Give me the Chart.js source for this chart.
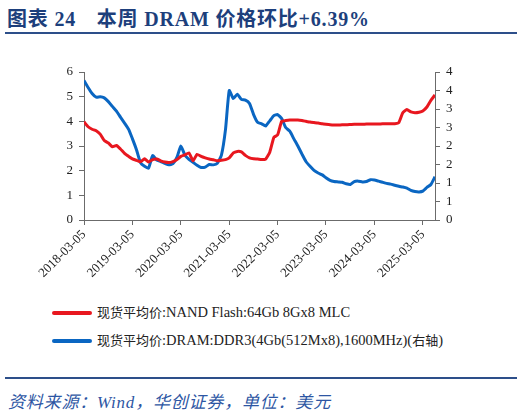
<!DOCTYPE html>
<html><head><meta charset="utf-8">
<script src="https://cdn.jsdelivr.net/npm/chart.js@4.4.1/dist/chart.umd.min.js"></script>
<style>
html,body{margin:0;padding:0;background:#fff;}
body{width:524px;height:413px;position:relative;overflow:hidden;font-family:"Liberation Serif","Noto Sans CJK SC",serif;}
#title{position:absolute;left:7px;top:3px;font-size:20px;font-weight:bold;color:#1d3f7c;white-space:nowrap;letter-spacing:0.8px;}
#tline{position:absolute;left:5px;top:32px;width:512px;height:2px;background:#2d4f8a;}
#wrap{position:absolute;left:0;top:55px;width:524px;height:240px;}
.leg{position:absolute;left:52px;font-size:14.5px;color:#222;white-space:nowrap;}
.leg .cn{font-size:13px;}
.leg span.l{display:inline-block;width:40px;height:4px;border-radius:2px;vertical-align:middle;margin-right:5px;position:relative;top:-1px;}
#fline{position:absolute;left:5px;top:377px;width:512px;height:2px;background:#2d4f8a;}
#foot{position:absolute;left:8px;top:388px;font-size:17px;font-style:italic;color:#2d56a3;white-space:nowrap;letter-spacing:0.8px;}
</style></head><body>
<div id="title">图表 24　本周 DRAM 价格环比+6.39%</div>
<div id="tline"></div>
<div id="wrap"><canvas id="c" width="524" height="240"></canvas></div>
<div class="leg" style="top:302px"><span class="l" style="background:#e8171f"></span><span class="cn">现货平均价</span>:NAND Flash:64Gb 8Gx8 MLC</div>
<div class="leg" style="top:330px"><span class="l" style="background:#0a66c2"></span><span class="cn">现货平均价</span>:DRAM:DDR3(4Gb(512Mx8),1600MHz)(<span class="cn">右轴</span>)</div>
<div id="fline"></div>
<div id="foot">资料来源：Wind，华创证券，单位：美元</div>
<script>
const months = [
"2018-03","2018-04","2018-05","2018-06","2018-07","2018-08","2018-09","2018-10","2018-11","2018-12",
"2019-01","2019-02","2019-03","2019-04","2019-05","2019-06","2019-07","2019-08","2019-09","2019-10","2019-11","2019-12",
"2020-01","2020-02","2020-03","2020-04","2020-05","2020-06","2020-07","2020-08","2020-09","2020-10","2020-11","2020-12",
"2021-01","2021-02","2021-03","2021-04","2021-05","2021-06","2021-07","2021-08","2021-09","2021-10","2021-11","2021-12",
"2022-01","2022-02","2022-03","2022-04","2022-05","2022-06","2022-07","2022-08","2022-09","2022-10","2022-11","2022-12",
"2023-01","2023-02","2023-03","2023-04","2023-05","2023-06","2023-07","2023-08","2023-09","2023-10","2023-11","2023-12",
"2024-01","2024-02","2024-03","2024-04","2024-05","2024-06","2024-07","2024-08","2024-09","2024-10","2024-11","2024-12",
"2025-01","2025-02","2025-03","2025-04","2025-05","2025-06"];
const nandPrice = [
3.98,3.78,3.68,3.62,3.48,3.22,3.12,2.97,3.02,2.88,
2.70,2.58,2.48,2.42,2.36,2.48,2.35,2.45,2.47,2.40,2.35,2.33,
2.37,2.45,2.58,2.64,2.72,2.40,2.66,2.58,2.52,2.47,2.44,2.40,
2.42,2.45,2.52,2.72,2.78,2.76,2.62,2.52,2.48,2.47,2.45,2.47,
2.75,3.35,3.45,4.00,4.03,4.05,4.05,4.05,4.03,4.00,3.97,3.95,
3.93,3.90,3.88,3.86,3.85,3.85,3.86,3.86,3.87,3.88,3.88,3.88,
3.89,3.89,3.89,3.89,3.90,3.90,3.90,3.90,3.95,4.35,4.48,4.38,
4.35,4.37,4.42,4.58,4.85,5.07];
const dramPrice = [
3.77,3.58,3.42,3.32,3.33,3.30,3.20,3.07,2.94,2.78,
2.62,2.45,2.20,1.90,1.55,1.45,1.40,1.74,1.62,1.58,1.53,1.49,
1.52,1.70,2.00,1.75,1.64,1.56,1.48,1.42,1.43,1.50,1.49,1.53,
1.75,2.45,3.50,3.28,3.40,3.26,3.24,3.15,2.85,2.64,2.60,2.54,
2.68,2.82,2.85,2.74,2.50,2.40,2.20,2.00,1.78,1.58,1.45,1.34,
1.27,1.22,1.14,1.07,1.04,1.03,1.02,0.98,0.96,1.04,1.05,1.03,
1.04,1.09,1.08,1.05,1.02,0.99,0.97,0.94,0.91,0.89,0.86,0.80,
0.77,0.76,0.78,0.88,0.96,1.17];
const xTickDates = ["2018-03-05","2019-03-05","2020-03-05","2021-03-05","2022-03-05","2023-03-05","2024-03-05","2025-03-05"];
const leftTicks = [0,1,2,3,4,5,6];
const rightTicks = [0,0.5,1,1.5,2,2.5,3,3.5,4];

const DAY = 86400000;
const base = Date.UTC(2018,2,5);
function dayOf(s){const p=s.split('-').map(Number);return (Date.UTC(p[0],p[1]-1,p[2]||5)-base)/DAY;}
const xs = months.map(m=>dayOf(m+'-05'));
const tickDays = xTickDates.map(dayOf);
const labelOf = {}; tickDays.forEach((d,i)=>labelOf[d]=xTickDates[i]);

const font = {family:'"Liberation Serif","Times New Roman",serif', size:13};
const axisColor = '#6b6b6b';
new Chart(document.getElementById('c'),{
  type:'line',
  data:{datasets:[
    {label:'NAND',data:xs.map((x,i)=>({x,y:nandPrice[i]})),yAxisID:'y',borderColor:'#e8171f',borderWidth:3,pointRadius:0,tension:0.15},
    {label:'DRAM',data:xs.map((x,i)=>({x,y:dramPrice[i]})),yAxisID:'y1',borderColor:'#0a66c2',borderWidth:3,pointRadius:0,tension:0.15}
  ]},
  options:{
    responsive:false,animation:false,
    layout:{padding:{top:17,left:0,right:0,bottom:0}},
    plugins:{legend:{display:false},tooltip:{enabled:false}},
    scales:{
      x:{type:'linear',min:0,max:xs[xs.length-1],
        afterBuildTicks:(s)=>{s.ticks=tickDays.map(v=>({value:v}));},
        afterFit:(s)=>{s.height=75;},
        ticks:{autoSkip:false,minRotation:45,maxRotation:45,color:'#222',font,padding:2,callback:(v)=>labelOf[v]||''},
        grid:{display:true,drawOnChartArea:false,drawTicks:true,tickLength:5,color:axisColor},
        border:{display:true,color:axisColor,width:1}
      },
      y:{position:'left',min:0,max:6,
        afterBuildTicks:(s)=>{s.ticks=leftTicks.map(v=>({value:v}));},
        afterFit:(s)=>{s.width=84;},
        ticks:{autoSkip:false,color:'#222',font,padding:6},
        grid:{display:true,drawOnChartArea:false,drawTicks:true,tickLength:5,color:axisColor},
        border:{display:true,color:axisColor,width:1}
      },
      y1:{position:'right',min:0,max:4,
        afterBuildTicks:(s)=>{s.ticks=rightTicks.map(v=>({value:v}));},
        afterFit:(s)=>{s.width=89;},
        ticks:{autoSkip:false,color:'#222',font,padding:6,callback:(v)=>String(Math.round(v))},
        grid:{display:true,drawOnChartArea:false,drawTicks:true,tickLength:5,color:axisColor},
        border:{display:true,color:axisColor,width:1}
      }
    }
  }
});
</script>
</body></html>
